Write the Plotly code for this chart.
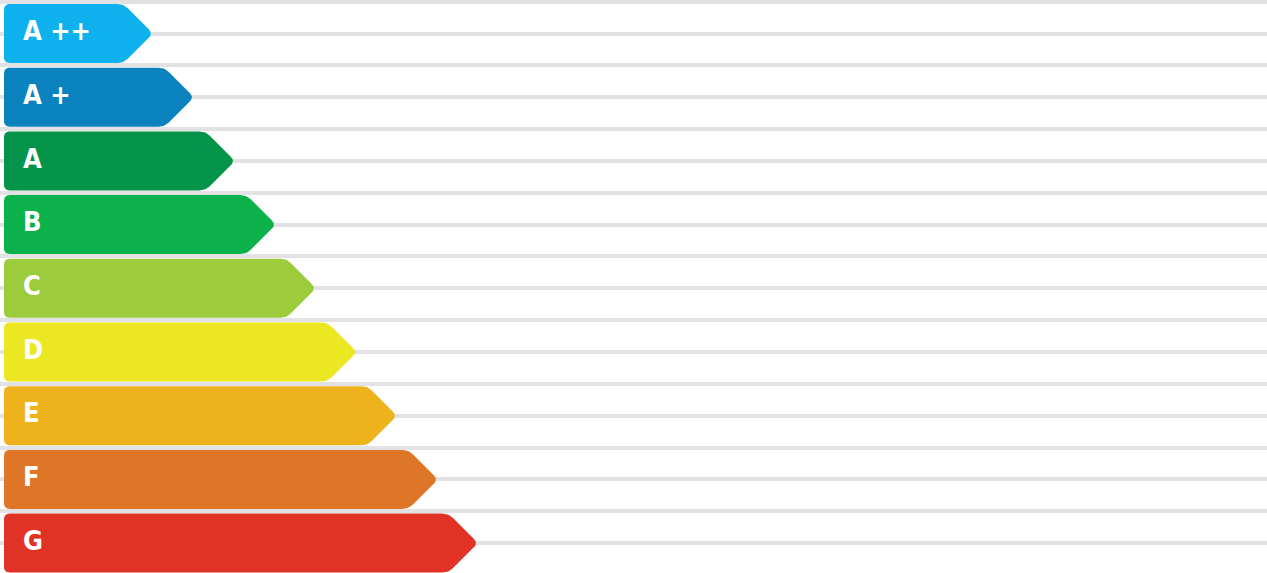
import numpy as np
import plotly.graph_objects as go

categories = ["A ++", "A +", "A", "B", "C", "D", "E", "F", "G"]
values = [149, 190, 231, 272, 312, 353, 393, 434, 474]  # arrow length (px units)
colors = ["#0db1ee", "#0a82be", "#049449", "#0cb14c", "#9ccb3c",
          "#ece723", "#eeb31c", "#df7627", "#e03225"]

W, H = 1267, 573
ROW_PX = 63.7
Y0_PX = 33.5
X0 = 4
HALF_PX = 29.5
RADIUS = 6


def rounded_polygon(pts, r, n=8):
    out = []
    m = len(pts)
    for i in range(m):
        p = np.array(pts[i], float)
        a = np.array(pts[i - 1], float)
        b = np.array(pts[(i + 1) % m], float)
        da = (a - p) / np.linalg.norm(a - p)
        db = (b - p) / np.linalg.norm(b - p)
        s = p + da * r
        e = p + db * r
        for t in np.linspace(0, 1, n):
            q = (1 - t) ** 2 * s + 2 * (1 - t) * t * p + t ** 2 * e
            out.append(q)
    out.append(out[0])
    return np.array(out)


fig = go.Figure()
for i, (cat, val, col) in enumerate(zip(categories, values, colors)):
    tip = X0 + val
    pts = [(X0, -HALF_PX), (tip - HALF_PX, -HALF_PX), (tip, 0),
           (tip - HALF_PX, HALF_PX), (X0, HALF_PX)]
    poly = rounded_polygon(pts, RADIUS)
    xs = poly[:, 0]
    ys = i + poly[:, 1] / ROW_PX
    fig.add_trace(go.Scatter(x=xs, y=ys, mode="lines", fill="toself",
                             fillcolor=col, line=dict(width=0, color=col),
                             hoverinfo="skip", showlegend=False))

fig.add_trace(go.Scatter(
    x=[23] * len(categories), y=list(range(len(categories))),
    mode="text", text=categories, textposition="middle right",
    textfont=dict(family="DejaVu Sans Condensed, Roboto, Arial", size=27,
                  color="white", weight="bold"),
    hoverinfo="skip", showlegend=False))

y_top = -Y0_PX / ROW_PX
y_bot = (H - Y0_PX) / ROW_PX
fig.update_layout(
    width=W, height=H, margin=dict(l=0, r=0, t=0, b=0),
    paper_bgcolor="white", plot_bgcolor="white",
    xaxis=dict(range=[0, W], visible=True, showgrid=False, zeroline=False,
               showticklabels=False, ticks=""),
    yaxis=dict(range=[y_bot, y_top], showgrid=True, gridcolor="#e2e2e4",
               gridwidth=4, tick0=0, dtick=0.5, zeroline=False,
               showticklabels=False, ticks=""),
)
fig.write_html("out.html", config={"displayModeBar": False},
               post_script="document.body.style.margin='0';document.body.style.overflow='hidden';")
